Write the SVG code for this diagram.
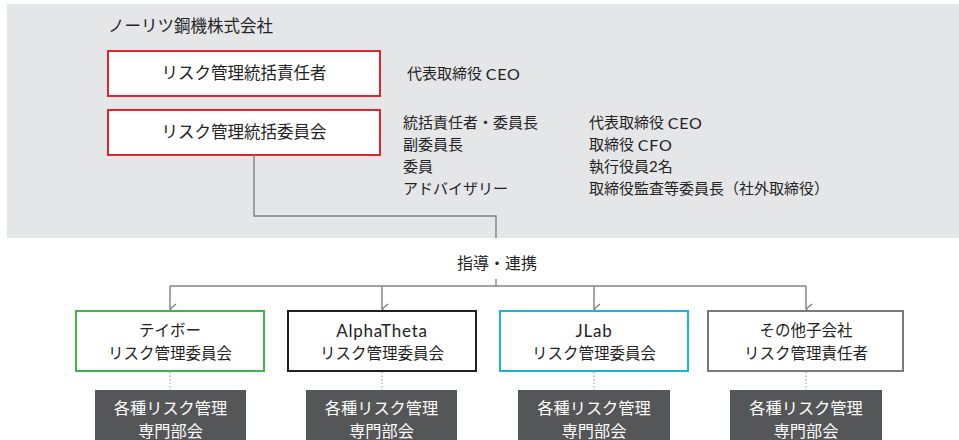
<svg xmlns="http://www.w3.org/2000/svg" width="959" height="440" viewBox="0 0 959 440">
<style>
text{font-family:Lato,"Noto Sans CJK JP",sans-serif;fill:#232323;dominant-baseline:central}
.c{text-anchor:middle}
.t16{font-size:16.5px}
.t15{font-size:15.5px}
.t14{font-size:15px}
.lat{font-size:17px;letter-spacing:0.8px}
.box{fill:#fff;stroke-width:2}
.red{stroke:#e2242c}
.dark{fill:#555657}
.dt{fill:#fff;font-size:16.2px;text-anchor:middle}
.ln{fill:none;stroke:#808080;stroke-width:1.4}
.dot{fill:none;stroke:#999;stroke-width:1;stroke-dasharray:1.5 2}
</style>
<defs>
<marker id="arr" markerWidth="12" markerHeight="8" viewBox="0 0 12 8" refX="6" refY="7" orient="auto-start-reverse" markerUnits="userSpaceOnUse">
<path d="M1,1 L6,7 L11,1" fill="none" stroke="#808080" stroke-width="1.4"/>
</marker>
</defs>
<rect id="bg" x="7" y="4" width="952" height="234" fill="#e5e6e8"/>
<g id="company"><text x="108" y="26" class="t16">ノーリツ鋼機株式会社</text></g>
<g id="n-head">
<rect class="box red" x="108" y="51" width="272" height="45"/>
<text class="c t16" x="244" y="73">リスク管理統括責任者</text>
</g>
<text class="t14" x="407" y="73">代表取締役 <tspan class="lat" style="font-size:16px">CEO</tspan></text>
<g id="n-comm">
<rect class="box red" x="108" y="110" width="272" height="45"/>
<text class="c t16" x="244" y="132">リスク管理統括委員会</text>
</g>
<g id="members" class="t14">
<text x="403" y="122">統括責任者・委員長</text>
<text x="403" y="144">副委員長</text>
<text x="403" y="166">委員</text>
<text x="403" y="188">アドバイザリー</text>
<text x="589" y="122">代表取締役 <tspan class="lat" style="font-size:16px">CEO</tspan></text>
<text x="589" y="144">取締役 <tspan class="lat" style="font-size:16px">CFO</tspan></text>
<text x="589" y="166">執行役員2名</text>
<text x="589" y="188">取締役監査等委員長（社外取締役）</text>
</g>
<g id="connectors">
<path class="ln" d="M254,155 V216 H496 V238"/>
<path class="ln" d="M496,279 V286"/>
<path class="ln" d="M170,286 H806"/>
<path class="ln" d="M170,286 V309" marker-end="url(#arr)"/>
<path class="ln" d="M382,286 V309" marker-end="url(#arr)"/>
<path class="ln" d="M594,286 V309" marker-end="url(#arr)"/>
<path class="ln" d="M806,286 V309" marker-end="url(#arr)"/>
<path class="dot" d="M170,372 V390 M382,372 V390 M594,372 V390 M806,372 V390"/>
</g>
<text id="lbl" class="c" style="font-size:16px" x="497" y="262">指導・連携</text>
<g id="n-teibo">
<rect class="box" stroke="#3db54a" x="76" y="311" width="188" height="60"/>
<text class="c t15" x="170" y="330">テイボー</text>
<text class="c t15" x="170" y="353">リスク管理委員会</text>
</g>
<g id="n-alpha">
<rect class="box" stroke="#231f20" x="288" y="311" width="188" height="60"/>
<text class="c lat" x="382" y="330">AlphaTheta</text>
<text class="c t15" x="382" y="353">リスク管理委員会</text>
</g>
<g id="n-jlab">
<rect class="box" stroke="#1fb1d9" x="500" y="311" width="188" height="60"/>
<text class="c lat" x="594" y="330">JLab</text>
<text class="c t15" x="594" y="353">リスク管理委員会</text>
</g>
<g id="n-other">
<rect class="box" stroke="#7a7a7a" x="708" y="311" width="195" height="60"/>
<text class="c t15" x="806" y="330">その他子会社</text>
<text class="c t15" x="806" y="353">リスク管理責任者</text>
</g>
<g id="d1"><rect class="dark" x="95" y="390" width="151" height="50"/><text class="dt" x="170.5" y="407">各種リスク管理</text><text class="dt" x="170.5" y="430">専門部会</text></g>
<g id="d2"><rect class="dark" x="306" y="390" width="151" height="50"/><text class="dt" x="381.5" y="407">各種リスク管理</text><text class="dt" x="381.5" y="430">専門部会</text></g>
<g id="d3"><rect class="dark" x="518" y="390" width="152" height="50"/><text class="dt" x="594" y="407">各種リスク管理</text><text class="dt" x="594" y="430">専門部会</text></g>
<g id="d4"><rect class="dark" x="730" y="390" width="152" height="50"/><text class="dt" x="806" y="407">各種リスク管理</text><text class="dt" x="806" y="430">専門部会</text></g>
</svg>
